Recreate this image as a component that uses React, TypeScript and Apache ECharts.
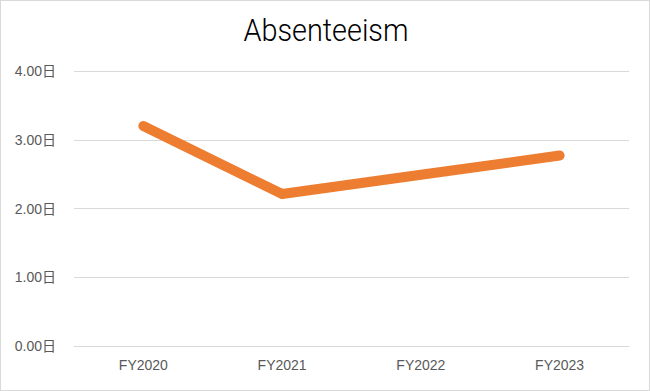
import React, { useEffect, useRef } from "react";
import * as echarts from "echarts";

const categories = ["FY2020", "FY2021", "FY2022", "FY2023"];
const absenteeism = [3.2, 2.21, 2.49, 2.77];
const yTicks = { min: 0, max: 4, interval: 1 };
const title = "Absenteeism";
const unit = "日";

export default function App() {
  const ref = useRef<HTMLDivElement>(null);
  useEffect(() => {
    document.body.style.margin = "0";
    const chart = echarts.init(ref.current!, null, { renderer: "svg" });
    chart.setOption({
      animation: false,
      backgroundColor: "#ffffff",
      graphic: [
        {
          type: "text",
          x: 325,
          y: 29,
          scaleX: 0.93,
          style: {
            text: title,
            x: 0,
            y: 0,
            align: "center",
            verticalAlign: "middle",
            fontFamily: "Roboto",
            fontSize: 31,
            fontWeight: 300,
            fill: "#000000",
          },
        },
      ],
      grid: { left: 73, right: 20, top: 70, bottom: 44 },
      xAxis: {
        type: "category",
        data: categories,
        boundaryGap: true,
        axisLine: { show: true, lineStyle: { color: "#d9d9d9", width: 1 } },
        axisTick: { show: false },
        axisLabel: {
          color: "#595959",
          fontSize: 14,
          fontFamily: "Liberation Sans",
          margin: 12,
        },
      },
      yAxis: {
        type: "value",
        min: yTicks.min,
        max: yTicks.max,
        interval: yTicks.interval,
        axisLine: { show: false },
        axisTick: { show: false },
        splitLine: { lineStyle: { color: "#d9d9d9", width: 1 } },
        axisLabel: {
          color: "#595959",
          fontSize: 14,
          fontFamily: "Liberation Sans, Noto Sans CJK JP",
          margin: 18,
          formatter: (v: number) => v.toFixed(2) + unit,
        },
      },
      series: [
        {
          type: "line",
          data: absenteeism,
          symbol: "none",
          lineStyle: { color: "#ED7D31", width: 10, cap: "round", join: "round" },
          itemStyle: { color: "#ED7D31" },
        },
      ],
    });
    return () => chart.dispose();
  }, []);
  return (
    <div
      ref={ref}
      style={{
        position: "absolute",
        left: 0,
        top: 0,
        width: 650,
        height: 391,
        border: "1px solid #d9d9d9",
        boxSizing: "border-box",
      }}
    />
  );
}
